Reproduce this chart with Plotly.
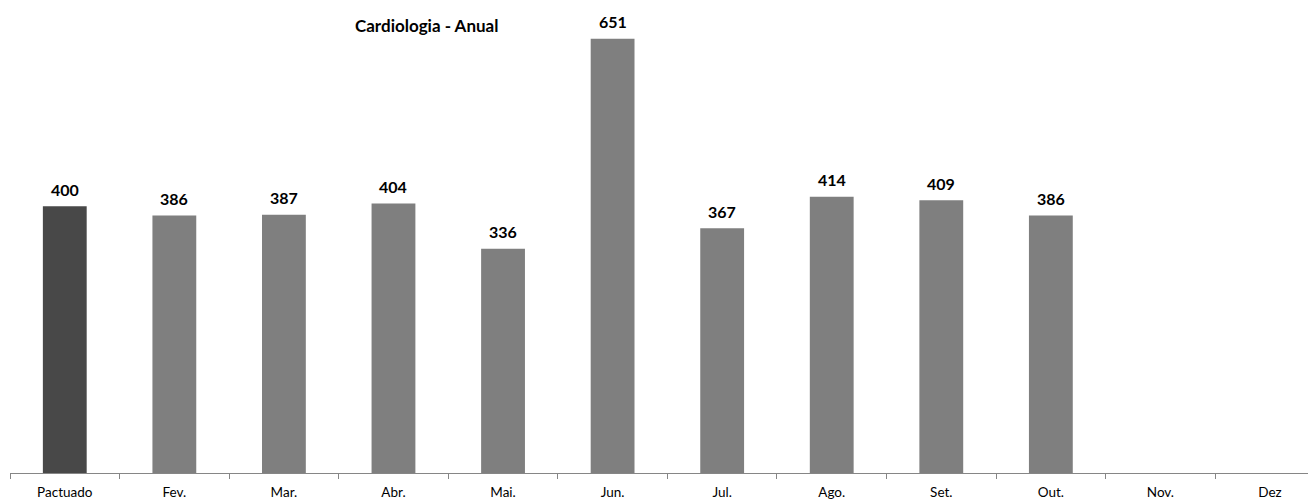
import plotly.graph_objects as go

categories = ["Pactuado", "Fev.", "Mar.", "Abr.", "Mai.", "Jun.", "Jul.", "Ago.", "Set.", "Out.", "Nov.", "Dez"]
values = [400, 386, 387, 404, 336, 651, 367, 414, 409, 386, None, None]
bar_colors = ["#484848"] + ["#7f7f7f"] * 11
title_text = "Cardiologia - Anual"

fig = go.Figure()
fig.add_trace(go.Bar(
    x=categories,
    y=values,
    marker=dict(color=bar_colors, line=dict(width=0)),
    width=0.4,
    hoverinfo="skip",
))

for c, v in zip(categories, values):
    if v is None:
        continue
    fig.add_annotation(
        x=c, y=v, text=f"<b>{v}</b>", showarrow=False,
        yshift=17, font=dict(family="Lato", size=16, color="#000000"),
    )

# page is offset by the browser's 8px body margin
fig.add_annotation(
    xref="paper", yref="paper", x=(418 - 2) / 1306, y=(465 - 18) / 465,
    text=f"<b>{title_text}</b>", showarrow=False,
    xanchor="center", yanchor="middle",
    font=dict(family="Lato", size=17, color="#000000"),
)

fig.update_layout(
    width=1308, height=493,
    margin=dict(l=2, r=0, t=0, b=28, autoexpand=False),
    paper_bgcolor="white", plot_bgcolor="white",
    showlegend=False,
    xaxis=dict(
        type="category",
        range=[-0.5, 11.42],
        automargin=False,
        showline=True, linecolor="#868686", linewidth=1,
        ticks="outside", tickson="boundaries", ticklen=5, tickcolor="#868686",
        ticklabelstandoff=7,
        tickfont=dict(family="Lato", size=13.5, color="#000000"),
        showgrid=False, zeroline=False,
    ),
    yaxis=dict(
        range=[0, 697], visible=False, showgrid=False, zeroline=False,
        automargin=False,
    ),
)

fig.write_html("out.html")
